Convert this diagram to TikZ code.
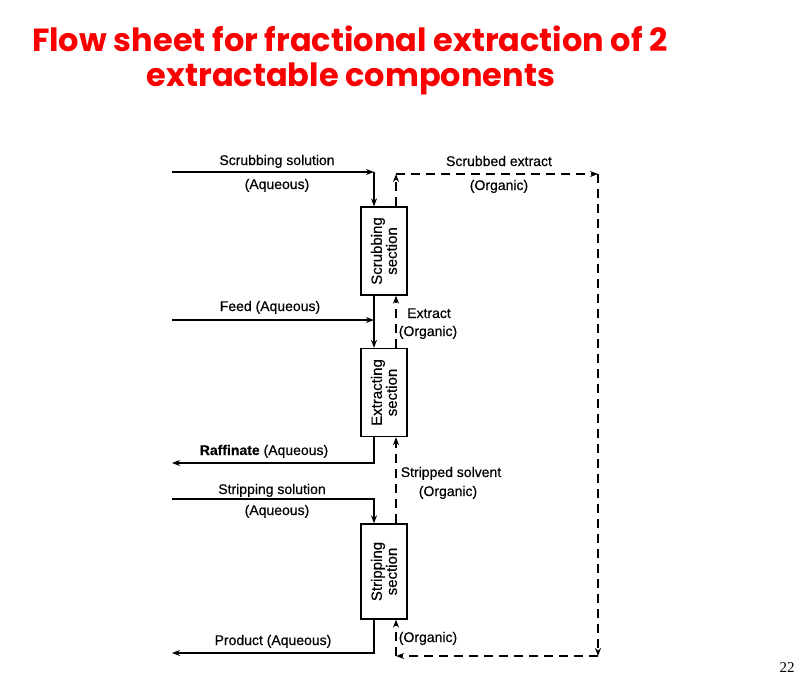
\documentclass[tikz,border=0pt]{standalone}
\usepackage{fontspec}
\setmainfont{Liberation Sans}
\newfontfamily\labfont[FakeBold=0.35]{Liberation Sans}
\newfontfamily\titlefont{Poppins}
\newfontfamily\numfont{Liberation Serif}
\usetikzlibrary{arrows.meta}
\definecolor{titlered}{RGB}{250,0,0}
\tikzset{
  box/.style={draw, line width=1.3pt, minimum width=46pt, minimum height=88pt, inner sep=0pt},
  boxtext/.style={rotate=90, align=center, font=\labfont\fontsize{15}{15}\selectfont},
  lab/.style={font=\labfont\fontsize{14}{16}\selectfont, inner sep=0pt, anchor=base},
  aq/.style={line width=1.8pt},
  org/.style={line width=1.8pt, dash pattern=on 9pt off 6pt},
  tip/.style={-{Stealth[length=8pt,width=6pt]}},
  ttl/.style={font=\titlefont\bfseries\fontsize{32}{36}\selectfont, text=titlered, anchor=base, inner sep=0pt},
}
\begin{document}
\begin{tikzpicture}[x=1pt,y=-1pt]
\useasboundingbox[fill=white] (0,0) rectangle (811,683);

% title
\node[ttl] (t1) at (350,51) {Flow sheet for fractional extraction of 2};
\node[ttl] (t2) at (351,86) {extractable components};
\node[font=\numfont\fontsize{15}{16}\selectfont, anchor=base, inner sep=0pt] (pg) at (787,672) {22};

% boxes
\node[box] (scrub) at (384,251) {};
\node[boxtext] (scrubT) at (scrub.center) {Scrubbing\\section};
\node[box] (extr) at (384,392.5) {};
\node[boxtext] (extrT) at (extr.center) {Extracting\\section};
\node[box, minimum height=95pt] (strip) at (384,571.5) {};
\node[boxtext] (stripT) at (strip.center) {Stripping\\section};

% coordinates for aqueous (x=374) and organic (x=396) lines
\coordinate (aqx) at (374,0);
\coordinate (orx) at (396,0);

% Scrubbing solution
\coordinate (ssL) at (172,172);
\coordinate (ssC) at (374,172);
\draw[aq, tip] (ssL) -- (ssC);
\draw[aq, tip] (ssC) -- (scrub.north -| aqx);
\node[lab] (ssT1) at (277,165) {Scrubbing solution};
\node[lab] (ssT2) at (277,189) {(Aqueous)};

% Feed
\coordinate (fL) at (172,320);
\coordinate (fC) at (374,320);
\draw[aq, tip] (fL) -- (fC);
\node[lab] (fT) at (270,311) {Feed (Aqueous)};
\draw[aq, tip] (scrub.south -| aqx) -- (extr.north -| aqx);

% Raffinate
\coordinate (rC) at (374,463);
\coordinate (rL) at (172,463);
\draw[aq, tip] (extr.south -| aqx) -- (rC) -- (rL);
\node[lab] (rT) at (264,455) {\textbf{Raffinate} (Aqueous)};

% Stripping solution
\coordinate (stL) at (172,499);
\coordinate (stC) at (374,499);
\draw[aq, tip] (stL) -- (stC) -- (strip.north -| aqx);
\node[lab] (stT1) at (272,494) {Stripping solution};
\node[lab] (stT2) at (277,515) {(Aqueous)};

% Product
\coordinate (pC) at (374,653);
\coordinate (pL) at (172,653);
\draw[aq, tip] (strip.south -| aqx) -- (pC) -- (pL);
\node[lab] (pT) at (273,645) {Product (Aqueous)};

% Organic: stripped solvent
\draw[org, tip] (strip.north -| orx) -- (extr.south -| orx);
\node[lab] (ssv1) at (451,477) {Stripped solvent};
\node[lab] (ssv2) at (448,496) {(Organic)};

% Organic: extract
\draw[org, tip] (extr.north -| orx) -- (scrub.south -| orx);
\node[lab] (ex1) at (429,318) {Extract};
\node[lab] (ex2) at (428,336) {(Organic)};

% Organic: scrubbed extract loop
\coordinate (seT) at (396,174);
\coordinate (seR) at (598,174);
\coordinate (seRB) at (598,656);
\coordinate (seB) at (396,656);
\draw[org, tip] (scrub.north -| orx) -- (seT);
\draw[org, tip] (seT) -- (seR);
\draw[org, tip] (seR) -- (seRB);
\draw[org, tip] (seRB) -- (seB);
\draw[org, tip] (seB) -- (strip.south -| orx);
\node[lab] (se1) at (499,166) {Scrubbed extract};
\node[lab] (se2) at (499,190) {(Organic)};
\node[lab] (or3) at (428,642) {(Organic)};

\end{tikzpicture}
\end{document}
